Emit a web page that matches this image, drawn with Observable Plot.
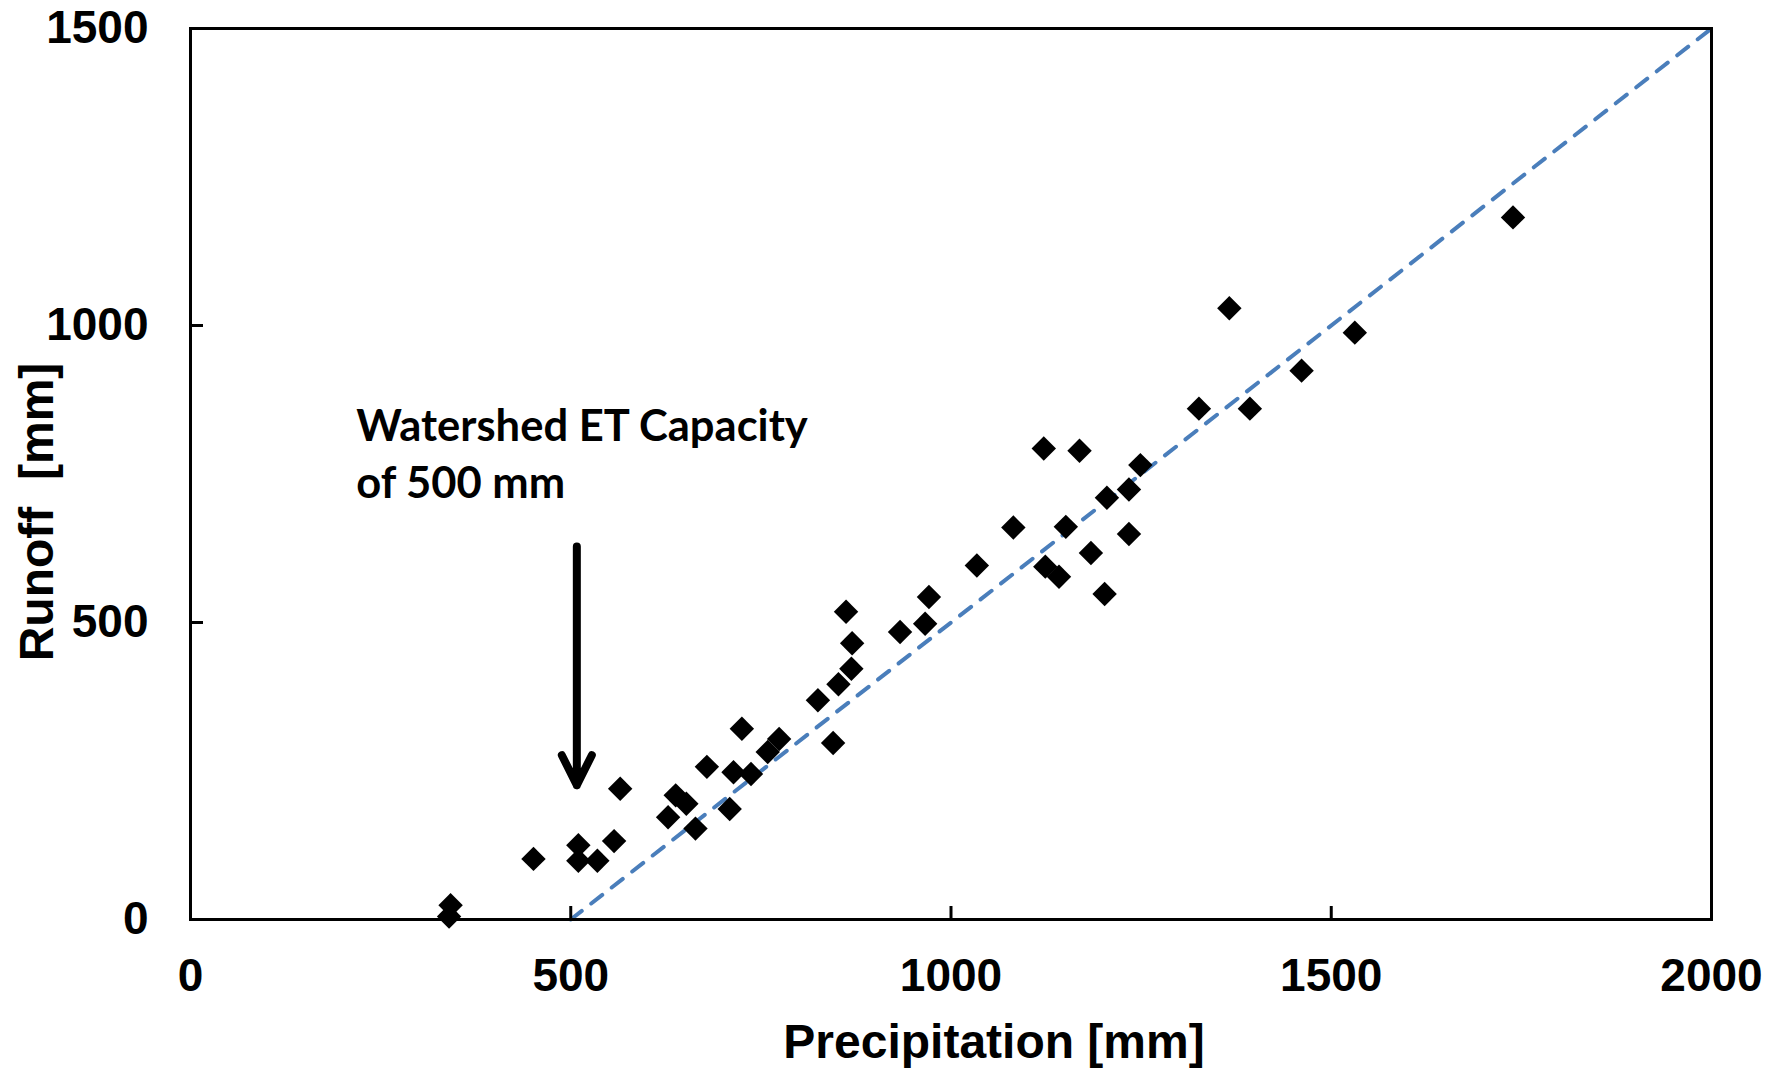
<!DOCTYPE html>
<html>
<head>
<meta charset="utf-8">
<script src="https://cdn.jsdelivr.net/npm/d3@7"></script>
<script src="https://cdn.jsdelivr.net/npm/@observablehq/plot@0.6"></script>
<style>
  body { margin: 0; background: #fff; }
  #chart svg { display: block; }
</style>
</head>
<body>
<div id="chart"></div>
<script>
// ---- data ----
const precipitation = [340, 342, 451, 510, 510, 535, 557, 565, 628, 638, 652, 664, 679, 709, 714, 737,
  725, 759, 774, 825, 845, 852, 869, 870, 862, 933, 966, 971, 1034, 1082, 1122, 1124, 1142, 1151,
  1169, 1184, 1202, 1205, 1234, 1234, 1249, 1326, 1393, 1461, 1366, 1531, 1739];
const runoff = [5, 24, 102, 125, 99, 99, 132, 220, 172, 209, 195, 153, 257, 186, 248, 245,
  321, 282, 304, 369, 297, 396, 422, 465, 518, 484, 498, 543, 596, 660, 793, 594, 577, 661,
  789, 617, 548, 710, 649, 724, 765, 860, 860, 924, 1029, 988, 1182];

const xTicks = [0, 500, 1000, 1500, 2000];
const yTicks = [0, 500, 1000, 1500];

// ET capacity line: runoff = precipitation - 500
const etLineX = [500, 2000];
const etLineY = [0, 1500];

const xTitle = "Precipitation [mm]";
const yTitle = "Runoff  [mm]";
const annotationText = "Watershed ET Capacity\nof 500 mm";
const annotationAt = {x: 218, y: 873};
const arrowAt = {x: 508, yFrom: 628, yTo: 226};

// ---- build ----
const points = precipitation.map((p, i) => ({p, r: runoff[i]}));
const etLine = etLineX.map((x, i) => ({x, y: etLineY[i]}));

const chart = Plot.plot({
  width: 1783,
  height: 1068,
  marginLeft: 190,
  marginRight: 72,
  marginTop: 28,
  marginBottom: 149,
  style: {fontFamily: "'Liberation Sans', Arial, sans-serif", fontWeight: "bold", color: "black", background: "white"},
  x: {domain: [0, 2000]},
  y: {domain: [0, 1500]},
  marks: [
    Plot.line(etLine, {x: "x", y: "y", stroke: "#4a7ebb", strokeWidth: 4, strokeDasharray: "14,12"}),
    Plot.dot(points, {x: "p", y: "r", symbol: "diamond2", r: 11, fill: "black", stroke: "none"}),
    Plot.arrow([arrowAt], {x1: "x", x2: "x", y1: "yFrom", y2: "yTo", stroke: "black", strokeWidth: 8,
      headAngle: 53, headLength: 6.3, strokeLinecap: "round", strokeLinejoin: "round"}),
    Plot.text([annotationText], {x: () => annotationAt.x, y: () => annotationAt.y, text: d => d,
      textAnchor: "start", lineAnchor: "top", lineHeight: 1.31, fontSize: 43.5,
      fontFamily: "Lato, 'Open Sans', sans-serif", fontWeight: "bold", fill: "black"}),
    Plot.frame({stroke: "black", strokeWidth: 3}),
    Plot.axisX({ticks: xTicks, tickFormat: "d", tickSize: -13, tickPadding: 52, strokeWidth: 3,
      fontSize: 46, label: null}),
    Plot.axisY({ticks: yTicks, tickFormat: "d", tickSize: -13, tickPadding: 55, strokeWidth: 3,
      fontSize: 46, label: null}),
    Plot.text([xTitle], {frameAnchor: "bottom", text: d => d, textAnchor: "middle", lineAnchor: "bottom",
      dy: 138, dx: 43, fontSize: 48, fill: "black"}),
    Plot.text([yTitle], {frameAnchor: "left", text: d => d, rotate: -90, textAnchor: "middle",
      lineAnchor: "bottom", dx: -138, dy: 38, fontSize: 48, fill: "black"})
  ]
});

document.getElementById("chart").appendChild(chart);
</script>
</body>
</html>
